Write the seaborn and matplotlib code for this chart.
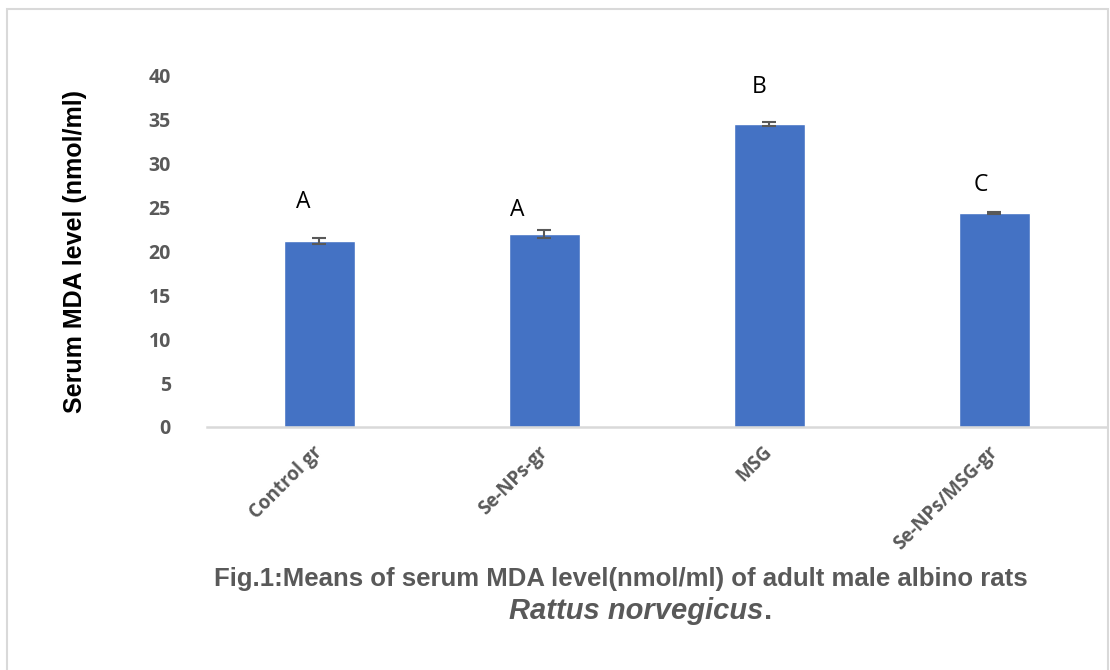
import matplotlib
matplotlib.use("Agg")

import matplotlib.pyplot as plt
import pandas as pd
import seaborn as sns
from matplotlib.patches import Rectangle

# ── Data ──
groups = ["Control gr", "Se-NPs-gr", "MSG", "Se-NPs/MSG-gr"]
mda_mean = [21.2, 22.0, 34.5, 24.35]
mda_err = [0.3, 0.45, 0.2, 0.1]
sig_letters = ["A", "A", "B", "C"]
letter_y = [25.6, 24.7, 38.7, 27.6]
letter_dx = [-0.07, -0.12, -0.045, -0.06]

BAR_COLOR = "#4472C4"
GREY = "#595959"
AXIS_GREY = "#D9D9D9"

sns.set_theme(style="white")
plt.rcParams["font.family"] = ["Open Sans", "DejaVu Sans"]

df = pd.DataFrame({"group": groups, "mda": mda_mean})

fig = plt.figure(figsize=(11.1, 6.7), dpi=100)
ax = fig.add_axes([0.1865, 0.3627, 0.8105, 0.524])

sns.barplot(data=df, x="group", y="mda", color=BAR_COLOR, saturation=1,
            width=0.315, errorbar=None, ax=ax)
ax.errorbar(range(len(groups)), mda_mean, yerr=mda_err, fmt="none",
            ecolor=GREY, elinewidth=1.5, capsize=5, capthick=1.5)

for i, (lab, ly, dx) in enumerate(zip(sig_letters, letter_y, letter_dx)):
    ax.text(i + dx, ly, lab, ha="center", va="center", fontsize=16.5, color="black")

ax.set_ylim(0, 40)
ax.set_xlim(-0.5, len(groups) - 0.5)
ax.set_yticks(range(0, 41, 5))
ax.set_xlabel("")
ax.set_ylabel("Serum MDA level (nmol/ml)", fontsize=18, fontweight="bold",
              family="Liberation Sans", color="black", labelpad=44)

for s in ["top", "right", "left"]:
    ax.spines[s].set_visible(False)
ax.spines["bottom"].set_color(AXIS_GREY)
ax.spines["bottom"].set_linewidth(1.8)
ax.tick_params(axis="both", length=0)
ax.tick_params(axis="y", pad=26)
for t in ax.get_yticklabels():
    t.set_fontsize(14)
    t.set_fontweight("bold")
    t.set_color(GREY)
for t in ax.get_xticklabels():
    t.set_fontsize(13.5)
    t.set_fontweight("bold")
    t.set_color(GREY)
    t.set_rotation(45)
    t.set_ha("right")
    t.set_rotation_mode("anchor")
    t.set_va("center")
ax.tick_params(axis="x", pad=16)

# caption
fig.text(0.559, 0.136, "Fig.1:Means of serum MDA level(nmol/ml) of adult male albino rats",
         ha="center", va="center", fontsize=18.5, fontweight="bold", color=GREY,
         family="Liberation Sans")
fig.text(0.688, 0.088, "Rattus norvegicus", ha="right", va="center", fontsize=21,
         fontweight="bold", style="italic", color=GREY, family="Liberation Sans")
fig.text(0.688, 0.088, ".", ha="left", va="center", fontsize=21,
         fontweight="bold", color=GREY, family="Liberation Sans")

# chart-area frame
fig.patches.append(Rectangle((7 / 1110, -0.05), 1101 / 1110, 1.05 - 9 / 670,
                             transform=fig.transFigure, fill=False,
                             edgecolor=AXIS_GREY, linewidth=1.5))

fig.savefig("out.png", dpi=100)
